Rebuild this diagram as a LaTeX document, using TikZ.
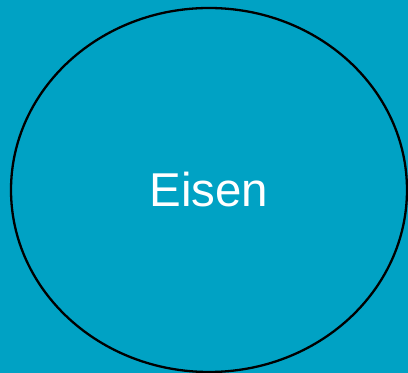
\documentclass[tikz,border=0pt]{standalone}
\usepackage{fontspec}
\setmainfont{Liberation Sans}
\usepackage{tikz}
\usetikzlibrary{shapes.geometric}
\definecolor{eisenbg}{RGB}{0,162,196}

\begin{document}
\begin{tikzpicture}[x=1pt, y=1pt,
  ring/.style={draw=black, line width=2.3pt, ellipse, minimum width=396pt, minimum height=364pt, inner sep=0pt, text=white, font=\fontsize{47.5}{52}\selectfont}
]
\fill[eisenbg] (0,0) rectangle (408,373);
\useasboundingbox (0,0) rectangle (408,373);
\node[ring] (eisen) at (209,183) {Eisen};
\end{tikzpicture}
\end{document}
